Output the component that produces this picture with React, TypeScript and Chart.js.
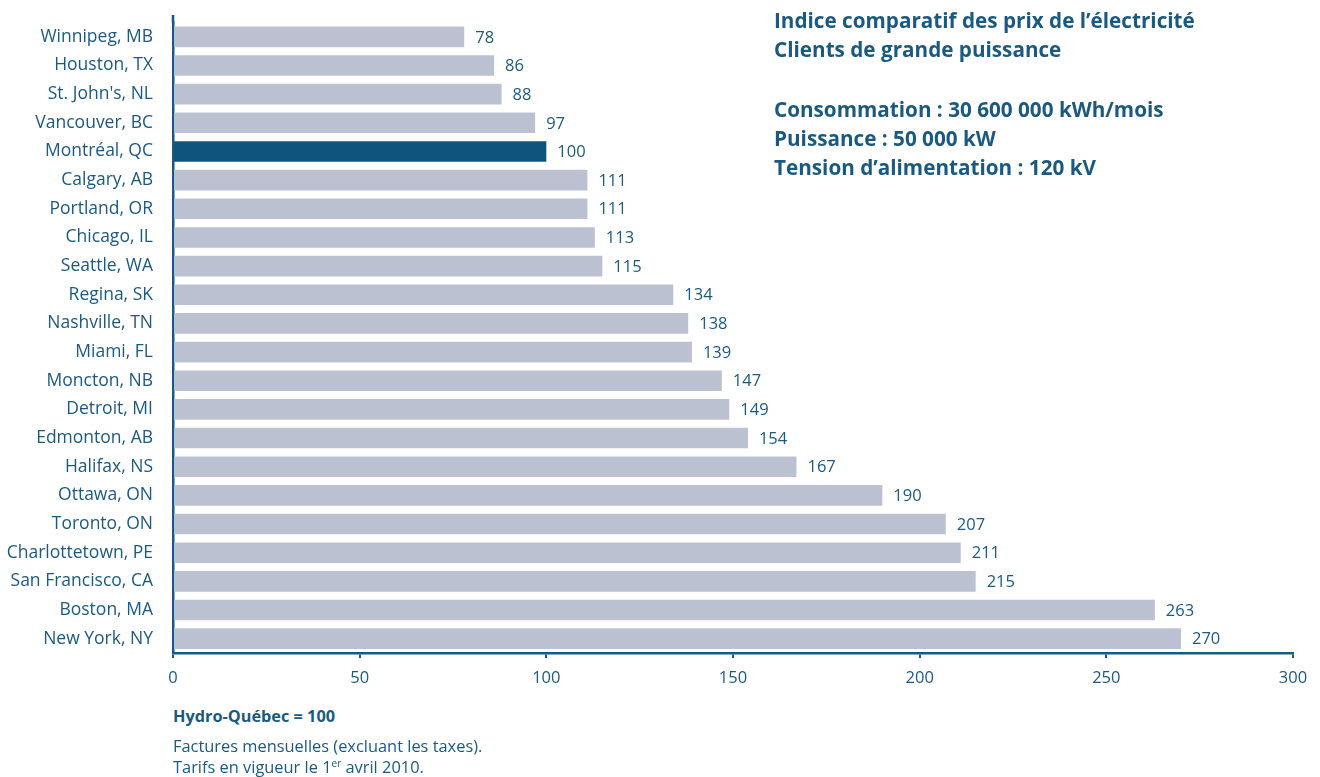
import React, { useEffect, useRef } from "react";
import { Chart, registerables } from "chart.js";

Chart.register(...registerables);

const cities = [
  "Winnipeg, MB", "Houston, TX", "St. John's, NL", "Vancouver, BC", "Montréal, QC",
  "Calgary, AB", "Portland, OR", "Chicago, IL", "Seattle, WA", "Regina, SK",
  "Nashville, TN", "Miami, FL", "Moncton, NB", "Detroit, MI", "Edmonton, AB",
  "Halifax, NS", "Ottawa, ON", "Toronto, ON", "Charlottetown, PE", "San Francisco, CA",
  "Boston, MA", "New York, NY",
];
const indexValues = [78, 86, 88, 97, 100, 111, 111, 113, 115, 134, 138, 139, 147, 149, 154, 167, 190, 207, 211, 215, 263, 270];
const highlightCity = "Montréal, QC";
const xTicks = [0, 50, 100, 150, 200, 250, 300];

const titleLines = ["Indice comparatif des prix de l’électricité", "Clients de grande puissance"];
const specLines = ["Consommation : 30 600 000 kWh/mois", "Puissance : 50 000 kW", "Tension d’alimentation : 120 kV"];

const BLUE = "#1a5a80";
const DARK = "#0f557b";
const GREY = "#bcc1d2";
const FONT = "'Open Sans', 'Noto Sans', sans-serif";

export default function App() {
  const ref = useRef<HTMLCanvasElement | null>(null);
  useEffect(() => {
    if (!ref.current) return;
    const valueLabels = {
      id: "valueLabels",
      afterDatasetsDraw(chart: any) {
        const ctx = chart.ctx;
        const meta = chart.getDatasetMeta(0);
        ctx.save();
        ctx.fillStyle = BLUE;
        ctx.font = `16.5px ${FONT}`;
        ctx.textBaseline = "middle";
        ctx.textAlign = "left";
        meta.data.forEach((bar: any, i: number) => {
          ctx.fillText(String(indexValues[i]), bar.x + 11, bar.y + 1);
        });
        // extend the y axis line upward
        ctx.strokeStyle = BLUE;
        ctx.lineWidth = 2.5;
        ctx.beginPath();
        ctx.moveTo(chart.chartArea.left, 15);
        ctx.lineTo(chart.chartArea.left, chart.chartArea.top + 1);
        ctx.stroke();
        ctx.restore();
      },
    };
    const chart = new Chart(ref.current, {
      type: "bar",
      data: {
        labels: cities,
        datasets: [
          {
            data: indexValues,
            backgroundColor: cities.map((c) => (c === highlightCity ? DARK : GREY)),
            barPercentage: 0.72,
            categoryPercentage: 1,
          },
        ],
      },
      options: {
        indexAxis: "y",
        animation: false,
        responsive: false,
        maintainAspectRatio: false,
        layout: { padding: { top: 16, right: 27, left: 0, bottom: 0 } },
        plugins: { legend: { display: false }, tooltip: { enabled: false } },
        scales: {
          x: {
            min: 0,
            max: 300,
            afterBuildTicks: (scale: any) => {
              scale.ticks = xTicks.map((v) => ({ value: v }));
            },
            afterFit: (scale: any) => {
              scale.height = 47;
            },
            grid: { drawOnChartArea: false, drawTicks: true, tickLength: 5, color: BLUE, lineWidth: 2 },
            border: { color: BLUE, width: 2.5 },
            ticks: { color: BLUE, font: { family: FONT, size: 16.5 }, padding: 10, maxRotation: 0 },
          },
          y: {
            afterFit: (scale: any) => {
              scale.width = 173;
            },
            grid: { display: false },
            border: { color: BLUE, width: 2.5 },
            ticks: { color: BLUE, font: { family: FONT, size: 17.5 }, padding: 12, autoSkip: false },
          },
        },
      },
      plugins: [valueLabels],
    });
    return () => chart.destroy();
  }, []);

  return (
    <div style={{ position: "fixed", left: 0, top: 0, width: 1320, height: 777, background: "#fff", fontFamily: FONT, color: BLUE }}>
      <canvas ref={ref} width={1320} height={700} style={{ position: "absolute", left: 0, top: 0, width: 1320, height: 700 }} />
      <div style={{ position: "absolute", left: 774, top: 6, fontWeight: 700, fontSize: 20.7, lineHeight: "29px", whiteSpace: "nowrap" }}>
        {titleLines.map((t) => (
          <div key={t}>{t}</div>
        ))}
        <div style={{ height: 31 }} />
        {specLines.map((t) => (
          <div key={t}>{t}</div>
        ))}
      </div>
      <div style={{ position: "absolute", left: 173, top: 705, fontWeight: 700, fontSize: 16.3, lineHeight: "22px", whiteSpace: "nowrap" }}>Hydro-Québec = 100</div>
      <div style={{ position: "absolute", left: 173, top: 735, fontSize: 16.4, lineHeight: "21px", whiteSpace: "nowrap" }}>
        <div>Factures mensuelles (excluant les taxes).</div>
        <div>
          Tarifs en vigueur le 1<sup style={{ fontSize: 10, lineHeight: 0 }}>er</sup> avril 2010.
        </div>
      </div>
    </div>
  );
}
